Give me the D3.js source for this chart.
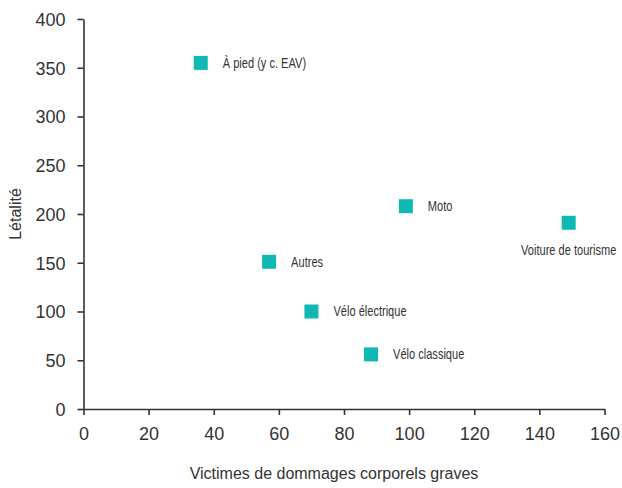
<!DOCTYPE html>
<html>
<head>
<meta charset="utf-8">
<script src="https://cdn.jsdelivr.net/npm/d3@7"></script>
<style>
  html, body { margin: 0; padding: 0; background: #fff; }
  svg { display: block; }
  .tick text { font-family: "Liberation Sans", Arial, sans-serif; font-size: 18px; fill: #333; }
  .lbl { font-family: "Liberation Sans", Arial, sans-serif; font-size: 14px; fill: #333; }
  .title { font-family: "Liberation Sans", Arial, sans-serif; font-size: 16px; fill: #333; }
</style>
</head>
<body>
<script>
const categories = ["À pied (y c. EAV)", "Moto", "Voiture de tourisme", "Autres", "Vélo électrique", "Vélo classique"];
const xValues = [36, 99, 149, 57, 70, 88.3];
const yValues = [355, 208, 191, 151, 100, 56];
const labelPos = ["right", "right", "below", "right", "right", "right"];
const xTicks = [0, 20, 40, 60, 80, 100, 120, 140, 160];
const yTicks = [0, 50, 100, 150, 200, 250, 300, 350, 400];

const W = 622, H = 488;
const margin = { left: 83.5, right: 17.5, top: 19, bottom: 79 };
const color = "#0fb8b3";
const ink = "#333";

const svg = d3.select("body").append("svg").attr("width", W).attr("height", H);

const x = d3.scaleLinear().domain([0, 160]).range([margin.left, W - margin.right]);
const y = d3.scaleLinear().domain([0, 400]).range([H - margin.bottom, margin.top]);

const xAxis = svg.append("g")
  .attr("transform", `translate(0,${y(0)})`)
  .call(d3.axisBottom(x).tickValues(xTicks).tickSize(6).tickPadding(12).tickSizeOuter(0));
const yAxis = svg.append("g")
  .attr("transform", `translate(${x(0)},0)`)
  .call(d3.axisLeft(y).tickValues(yTicks).tickSize(6).tickPadding(12).tickSizeOuter(0));

[xAxis, yAxis].forEach(g => {
  g.select(".domain").attr("stroke", ink).attr("stroke-width", 1.6);
  g.selectAll(".tick line").attr("stroke", ink).attr("stroke-width", 1.6);
  g.selectAll(".tick text").attr("fill", ink);
});
xAxis.selectAll(".tick text").attr("dy", "0.71em");
yAxis.selectAll(".tick text").attr("dy", "0.36em");

const data = categories.map((c, i) => ({ c, x: xValues[i], y: yValues[i], pos: labelPos[i] }));
const s = 14;

svg.append("g").selectAll("rect").data(data).join("rect")
  .attr("x", d => x(d.x) - s / 2)
  .attr("y", d => y(d.y) - s / 2)
  .attr("width", s).attr("height", s)
  .attr("fill", color);

svg.append("g").selectAll("g").data(data).join("g")
  .attr("transform", d => d.pos === "below"
    ? `translate(${x(d.x)},${y(d.y) + 27}) scale(0.79,1)`
    : `translate(${x(d.x) + 22},${y(d.y)}) scale(0.79,1)`)
  .append("text")
  .attr("class", "lbl")
  .attr("dy", "0.35em")
  .attr("text-anchor", d => d.pos === "below" ? "middle" : "start")
  .text(d => d.c);

svg.append("text").attr("class", "title")
  .attr("x", 334).attr("y", 473).attr("dy", "0.35em")
  .attr("text-anchor", "middle")
  .text("Victimes de dommages corporels graves");

svg.append("text").attr("class", "title")
  .attr("transform", `translate(15,${(y(0) + y(400)) / 2}) rotate(-90)`)
  .attr("dy", "0.35em")
  .attr("text-anchor", "middle")
  .text("Létalité");
</script>
</body>
</html>
